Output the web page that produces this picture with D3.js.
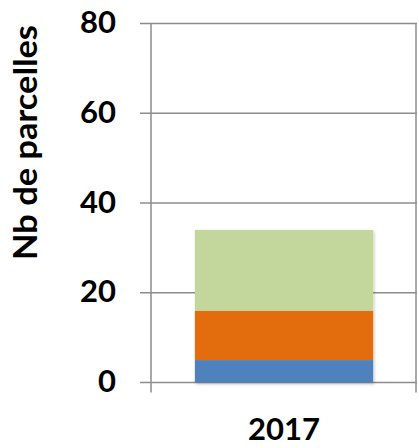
<!DOCTYPE html>
<html>
<head>
<meta charset="utf-8">
<script src="https://cdn.jsdelivr.net/npm/d3@7"></script>
<style>
  html, body { margin: 0; padding: 0; background: #fff; }
  svg { display: block; }
  text { font-family: Lato, "Open Sans", sans-serif; font-weight: bold; fill: #000; }
</style>
</head>
<body>
<svg id="chart" width="419" height="448"></svg>
<script>
// Parcel counts per category, stacked bottom to top
const categories = ["2017"];
const seriesNames = ["s1", "s2", "s3"];
const seriesColors = ["#4f81bd", "#e36c09", "#c3d69b"];
const s1 = [5];
const s2 = [11];
const s3 = [18];
const yTicks = [0, 20, 40, 60, 80];
const yTitle = "Nb de parcelles";

const rows = categories.map((c, i) => ({ cat: c, s1: s1[i], s2: s2[i], s3: s3[i] }));
const stacked = d3.stack().keys(seriesNames)(rows);

const svg = d3.select("#chart");
const plotLeft = 151, plotRight = 417, plotTop = 23.5, plotBottom = 382.5;

const x = d3.scaleBand().domain(categories).range([plotLeft, plotRight]).paddingInner(0.33).paddingOuter(0.165);
const y = d3.scaleLinear().domain([0, 80]).range([plotBottom, plotTop]);

const gridColor = "#8c8c8c";

// drop shadow under the bar
const defs = svg.append("defs");
const f = defs.append("filter").attr("id", "shadow").attr("x", "-10%").attr("y", "-10%").attr("width", "130%").attr("height", "130%");
f.append("feDropShadow").attr("dx", 1).attr("dy", 1.5).attr("stdDeviation", 1.5).attr("flood-color", "#000").attr("flood-opacity", 0.25);

// horizontal gridlines with left tick stubs
svg.append("g").selectAll("line").data(yTicks).join("line")
  .attr("x1", plotLeft - 11).attr("x2", plotRight)
  .attr("y1", d => y(d)).attr("y2", d => y(d))
  .attr("stroke", gridColor).attr("stroke-width", 1.5);

// vertical axis and right border
svg.append("line").attr("x1", plotLeft).attr("x2", plotLeft).attr("y1", plotTop).attr("y2", plotBottom + 10)
  .attr("stroke", gridColor).attr("stroke-width", 1.5);
svg.append("line").attr("x1", plotRight - 1).attr("x2", plotRight - 1).attr("y1", plotTop).attr("y2", plotBottom + 10)
  .attr("stroke", gridColor).attr("stroke-width", 1.5);

// stacked bar
const barG = svg.append("g").attr("filter", "url(#shadow)");
stacked.forEach((layer, k) => {
  barG.selectAll(null).data(layer).join("rect")
    .attr("x", d => x(d.data.cat))
    .attr("width", x.bandwidth())
    .attr("y", d => y(d[1]))
    .attr("height", d => y(d[0]) - y(d[1]))
    .attr("fill", seriesColors[k]);
});

// y tick labels
svg.append("g").selectAll("text").data(yTicks).join("text")
  .attr("x", 116).attr("y", d => y(d) + 9.5)
  .attr("text-anchor", "end")
  .attr("font-size", 31)
  .text(d => d);

// category labels
svg.append("g").selectAll("text").data(categories).join("text")
  .attr("x", d => x(d) + x.bandwidth() / 2).attr("y", 440)
  .attr("text-anchor", "middle")
  .attr("font-size", 31)
  .text(d => d);

// y axis title
svg.append("text")
  .attr("transform", "translate(37,142.5) rotate(-90)")
  .attr("text-anchor", "middle")
  .attr("font-size", 32)
  .attr("textLength", 235)
  .attr("lengthAdjust", "spacingAndGlyphs")
  .text(yTitle);
</script>
</body>
</html>
